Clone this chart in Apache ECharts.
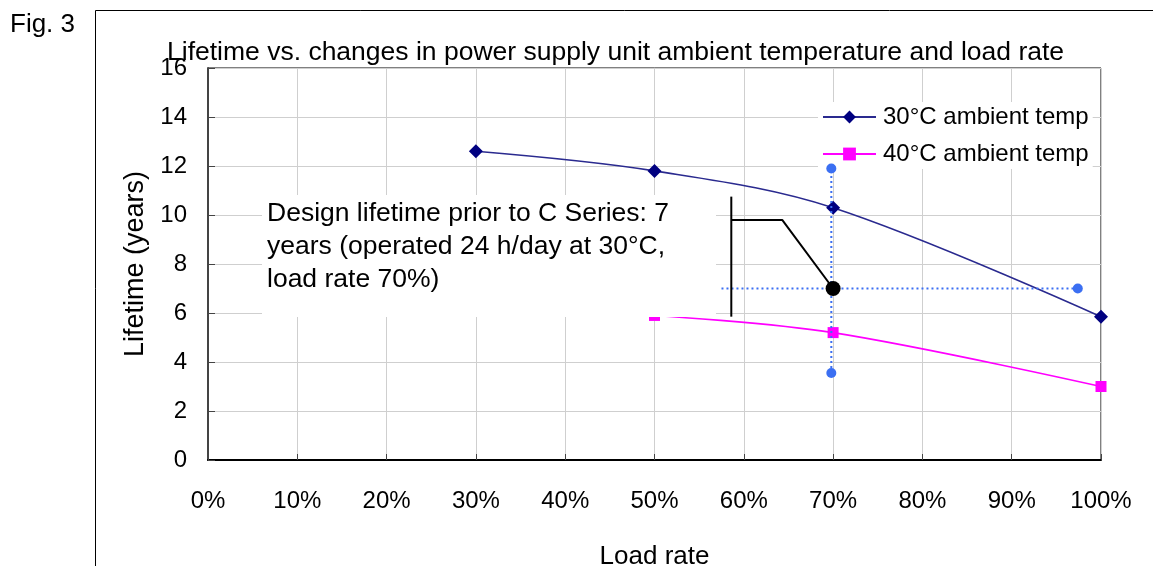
<!DOCTYPE html>
<html>
<head>
<meta charset="utf-8">
<script src="https://cdn.jsdelivr.net/npm/echarts@6/dist/echarts.min.js"></script>
<style>
  html, body { margin: 0; padding: 0; background: #fff; }
  #chart { width: 1153px; height: 566px; }
</style>
</head>
<body>
<div id="chart"></div>
<script>
// 数据
var load30 = [30, 50, 70, 100];
var life30 = [12.6, 11.8, 10.3, 5.85];
var load40 = [50, 70, 100];
var life40 = [5.9, 5.2, 3.0];
// 设计点 与 十字虚线
var designPoint = [70, 7.0];
var crossV = [[69.8, 3.55], [69.8, 11.9]];
var crossH = [[57.5, 7.0], [97.4, 7.0]];
// 引线
var calloutBar = [[58.6, 10.75], [58.6, 5.85]];
var calloutLeader = [[58.6, 9.8], [64.3, 9.8], [70, 7.0]];

var FONT = "'Liberation Sans', Arial, sans-serif";
var myChart = echarts.init(document.getElementById("chart"));

var options = {
  animation: false,
  backgroundColor: "#fff",
  textStyle: { fontFamily: FONT, color: "#000" },
  title: {
    text: "Lifetime vs. changes in power supply unit ambient temperature and load rate",
    left: 167,
    top: 39,
    padding: 0,
    textStyle: { fontFamily: FONT, fontSize: 26.5, fontWeight: "normal", color: "#000" }
  },
  legend: {
    orient: "vertical",
    left: 818,
    top: 102,
    itemWidth: 53,
    itemHeight: 16,
    itemGap: 13,
    padding: [3, 4],
    backgroundColor: "#fff",
    data: ["30°C ambient temp", "40°C ambient temp"],
    textStyle: { fontFamily: FONT, fontSize: 24, color: "#000", padding: [0, 0, 0, 2] }
  },
  grid: {
    left: 208,
    right: 52,
    top: 68,
    bottom: 106,
    outerBoundsMode: "none",
    containLabel: false,
    show: true,
    borderColor: "#000",
    borderWidth: 1
  },
  xAxis: {
    type: "value",
    min: 0,
    max: 100,
    interval: 10,
    name: "Load rate",
    nameLocation: "middle",
    nameGap: 84,
    nameTextStyle: { fontFamily: FONT, fontSize: 26, color: "#000" },
    axisLine: { lineStyle: { color: "#000", width: 2 } },
    axisTick: { inside: true, length: 6, lineStyle: { color: "#444" } },
    axisLabel: { formatter: "{value}%", margin: 29, fontSize: 24, color: "#000", fontFamily: FONT },
    splitLine: { show: true, lineStyle: { color: "#cfcfcf", width: 1 } }
  },
  yAxis: {
    type: "value",
    min: 0,
    max: 16,
    interval: 2,
    name: "Lifetime (years)",
    nameLocation: "middle",
    nameGap: 59,
    nameTextStyle: { fontFamily: FONT, fontSize: 27, color: "#000" },
    axisLine: { show: true, lineStyle: { color: "#444", width: 2 } },
    axisTick: { show: true, inside: true, length: 7, lineStyle: { color: "#444" } },
    axisLabel: { margin: 21, fontSize: 24, color: "#000", fontFamily: FONT },
    splitLine: { show: true, lineStyle: { color: "#cfcfcf", width: 1 } }
  },
  graphic: [
    // 外框
    {
      type: "rect",
      z: 0,
      shape: { x: 95.5, y: 10.5, width: 1200, height: 700 },
      style: { fill: null, stroke: "#000", lineWidth: 1 },
      silent: true
    },
    {
      type: "text",
      left: 10,
      top: 12,
      style: { text: "Fig. 3", font: "26px " + FONT, fill: "#000" }
    },
    // 说明文字框
    {
      type: "rect",
      z: 3,
      shape: { x: 262, y: 195, width: 454, height: 122 },
      style: { fill: "#fff", stroke: null }
    },
    {
      type: "text",
      z: 4,
      left: 267,
      top: 197,
      style: {
        text: "Design lifetime prior to C Series: 7\nyears (operated 24 h/day at 30°C,\nload rate 70%)",
        font: "26.5px " + FONT,
        lineHeight: 33,
        fill: "#000"
      }
    }
  ],
  series: [
    {
      name: "30°C ambient temp",
      type: "line",
      smooth: 0.35,
      z: 2,
      symbol: "diamond",
      symbolSize: 14,
      itemStyle: { color: "#000080" },
      lineStyle: { color: "#2a2a8f", width: 1.6 },
      data: load30.map(function (x, i) { return [x, life30[i]]; })
    },
    {
      name: "40°C ambient temp",
      type: "line",
      smooth: 0.35,
      z: 2,
      symbol: "rect",
      symbolSize: 11,
      itemStyle: { color: "#ff00ff" },
      lineStyle: { color: "#ff00ff", width: 1.6 },
      data: load40.map(function (x, i) { return [x, life40[i]]; })
    },
    {
      name: "crossV",
      type: "line",
      z: 6,
      symbol: "circle",
      symbolSize: 10,
      itemStyle: { color: "#3b6ff2" },
      lineStyle: { color: "#3b6ff2", width: 2, type: [2, 3] },
      data: crossV
    },
    {
      name: "crossH",
      type: "line",
      z: 6,
      symbol: "circle",
      symbolSize: 10,
      itemStyle: { color: "#3b6ff2" },
      lineStyle: { color: "#3b6ff2", width: 2, type: [2, 3] },
      data: [{ value: crossH[0], symbol: "none" }, { value: crossH[1] }]
    },
    {
      name: "calloutBar",
      type: "line",
      z: 7,
      symbol: "none",
      lineStyle: { color: "#000", width: 2 },
      data: calloutBar
    },
    {
      name: "calloutLeader",
      type: "line",
      z: 7,
      symbol: "none",
      lineStyle: { color: "#000", width: 2 },
      data: calloutLeader
    },
    {
      name: "design",
      type: "scatter",
      z: 8,
      symbolSize: 15,
      itemStyle: { color: "#000", opacity: 1 },
      data: [designPoint]
    }
  ]
};

myChart.setOption(options);
</script>
</body>
</html>
